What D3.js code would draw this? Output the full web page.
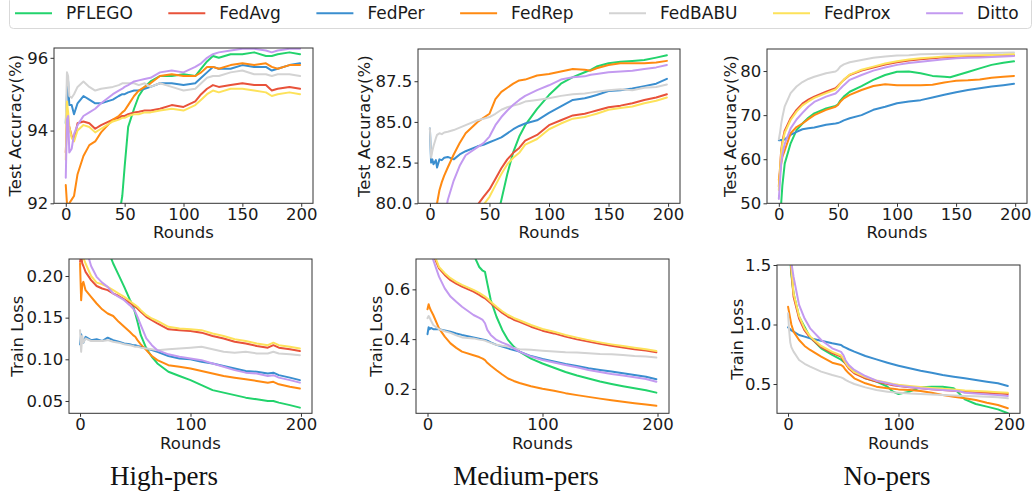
<!DOCTYPE html>
<html>
<head>
<meta charset="utf-8">
<script src="https://cdn.jsdelivr.net/npm/d3@7"></script>
<style>
  body { margin: 0; background: #fff; }
  svg { display: block; font-family: "DejaVu Sans", sans-serif; }
</style>
</head>
<body>
<svg id="chart" width="1034" height="497"></svg>
<script>
// methods, in legend / drawing order
const methods = ["PFLEGO", "FedAvg", "FedPer", "FedRep", "FedBABU", "FedProx", "Ditto"];
const colors = ["#22d36c", "#e8523a", "#3a8ecf", "#ff8a12", "#d3d3d3", "#fde25a", "#c39af0"];

// High-pers, test accuracy (values per method, same order as `methods`)
const roundsHighAcc = [0,1,2,3,5,7,10,15,20,25,30,40,45,48,50,53,58,62,67,72,80,90,100,110,115,120,125,130,140,150,160,170,175,180,190,199];
const highAcc = [
  [82,83,84,84.5,85,85.5,86,87,88,88.8,89.5,90.8,91.6,92.2,93.0,94.1,94.6,94.95,95.2,95.35,95.5,95.5,95.55,95.5,95.7,95.9,96.05,96.0,96.1,96.1,96.15,96.05,96.05,96.1,96.15,96.1],
  [93.4,94.3,94.2,94.1,93.85,93.75,94.2,94.25,94.2,94.05,94.15,94.3,94.35,94.4,94.4,94.45,94.5,94.52,94.55,94.55,94.6,94.7,94.65,94.8,95.0,95.15,95.25,95.2,95.25,95.3,95.25,95.25,95.1,95.15,95.2,95.15],
  [94.2,95.0,95.35,94.7,94.7,94.45,94.75,94.95,94.85,94.75,94.75,94.85,94.95,95.0,95.0,95.05,95.1,95.1,95.15,95.2,95.3,95.3,95.25,95.3,95.45,95.6,95.75,95.7,95.7,95.8,95.75,95.75,95.65,95.7,95.8,95.85],
  [92.5,92.0,91.9,92.0,92.1,92.2,92.8,93.3,93.6,93.7,93.95,94.3,94.4,94.5,94.55,94.7,94.95,95.1,95.2,95.3,95.5,95.55,95.5,95.5,95.6,95.75,95.75,95.7,95.8,95.85,95.8,95.85,95.75,95.7,95.8,95.8],
  [94.2,95.6,95.5,94.95,94.9,95.0,95.2,95.35,95.2,95.1,95.15,95.2,95.25,95.3,95.3,95.3,95.3,95.25,95.3,95.2,95.3,95.2,95.1,95.15,95.3,95.45,95.5,95.5,95.6,95.65,95.55,95.55,95.5,95.55,95.55,95.5],
  [93.2,94.8,94.5,94.1,93.8,93.7,94.0,94.15,94.1,93.95,94.05,94.25,94.3,94.35,94.35,94.4,94.45,94.45,94.5,94.5,94.55,94.6,94.55,94.7,94.85,95.0,95.1,95.05,95.15,95.15,95.1,95.05,94.95,95.0,95.05,95.0],
  [92.7,94.3,94.4,93.4,93.5,93.9,94.15,94.4,94.5,94.6,94.75,95.0,95.1,95.15,95.2,95.25,95.35,95.38,95.42,95.45,95.6,95.65,95.6,95.75,95.85,96.0,96.1,96.15,96.2,96.25,96.25,96.2,96.15,96.2,96.25,96.25]
];

// Medium-pers, test accuracy
const roundsMedAcc = [0,1,2,3,5,6,8,10,12,15,20,25,30,40,45,50,55,60,65,70,75,80,90,100,110,120,130,135,140,150,160,170,180,190,199];
const medAcc = [
  [60,61,62,63,64,65,66,67,68,69,70.5,72,73,75,76.5,77.5,78.7,80.2,81.8,83.15,84.1,84.8,85.8,86.65,87.35,87.75,88.05,88.2,88.4,88.6,88.7,88.75,88.8,88.95,89.1],
  [70,71,71.5,72,72.5,73,73.5,74,74.5,75,76,77,78,79.9,80.4,80.85,81.5,82.15,82.7,83.1,83.4,83.85,84.2,84.8,85.1,85.4,85.5,85.6,85.7,85.9,86.0,86.15,86.35,86.5,86.7],
  [84.6,82.5,82.7,82.4,82.65,82.2,82.7,82.65,82.8,82.85,82.7,83.0,83.2,83.5,83.6,83.75,83.9,84.05,84.3,84.55,84.75,84.9,85.1,85.55,85.95,86.35,86.45,86.55,86.65,86.9,86.95,87.05,87.2,87.35,87.65],
  [76,77,77.8,78.5,79.5,80.0,80.8,81.3,81.7,82.2,83.0,83.7,84.3,85.0,85.25,85.5,86.4,86.85,87.1,87.35,87.55,87.6,87.85,87.95,88.1,88.25,88.2,88.15,88.3,88.5,88.6,88.6,88.6,88.65,88.75],
  [84.6,82.8,83.2,83.5,84.0,84.2,84.3,84.25,84.35,84.4,84.5,84.65,84.8,85.1,85.2,85.3,85.5,85.75,85.9,86.0,86.1,86.25,86.35,86.45,86.6,86.7,86.75,86.8,86.85,86.95,87.0,86.95,87.1,87.15,87.3],
  [69.5,70.5,71,71.5,72,72.5,73,73.5,74,74.5,75.5,76.5,77.5,79.3,79.9,80.4,81.1,81.8,82.4,82.8,83.1,83.6,83.95,84.55,84.9,85.2,85.3,85.4,85.5,85.75,85.85,85.95,86.15,86.3,86.5],
  [74,74.5,75,75.5,76.3,76.7,77.5,78.2,79.0,80.2,81.4,82.3,82.95,83.45,83.7,84.1,84.8,85.3,85.7,86.05,86.35,86.6,86.95,87.25,87.6,87.75,87.8,87.9,87.95,88.05,88.1,88.15,88.25,88.35,88.5]
];

// No-pers, test accuracy
const roundsNoAcc = [0,1,2,3,5,10,15,20,25,30,40,48,50,52,55,60,70,80,90,100,110,120,130,140,145,150,160,170,180,190,199];
const noAcc = [
  [40,45,50,54,59,63.6,66.6,68.1,69.4,70.4,71.5,72.1,72.4,73.3,74.2,75.3,76.6,78.0,79.1,79.85,79.9,79.5,78.9,78.7,78.6,79.0,79.8,80.6,81.4,81.9,82.2],
  [53.8,58,62,64,66.5,69.3,71.2,72.6,73.5,74.2,75.3,76.1,76.6,77.2,78.0,79.1,80.1,80.8,81.5,82.0,82.4,82.7,82.9,83.1,83.15,83.2,83.3,83.4,83.45,83.5,83.6],
  [64.3,64.3,64.4,64.3,64.5,65.5,66.2,66.8,67.0,67.2,67.8,68.1,68.2,68.4,68.8,69.3,70.0,71.2,71.9,72.7,73.1,73.4,74.0,74.6,74.9,75.2,75.7,76.1,76.5,76.8,77.1],
  [55.3,57,59,60.5,62,65.9,67.3,68.1,69.1,70.0,71.2,71.9,72.3,73.0,73.8,74.6,75.7,76.6,77.0,76.8,76.8,76.8,76.9,77.4,77.6,77.8,77.9,78.1,78.5,78.7,78.9],
  [64.5,66,68,69.5,72,75,76.5,77.5,78.2,78.7,79.5,79.9,80.3,81.0,81.5,82.0,82.5,83.0,83.3,83.5,83.6,83.8,83.85,83.9,83.9,83.95,84.0,84.05,84.1,84.15,84.2],
  [53,57.5,61.5,63.5,66,68.9,70.8,72.2,73.1,73.9,75.0,75.8,76.4,77.1,78.0,79.2,80.3,81.0,81.7,82.2,82.6,82.9,83.1,83.3,83.35,83.4,83.5,83.6,83.65,83.7,83.8],
  [51,55,59,61,63.5,67,69,70.5,71.9,73.0,74.2,74.9,75.4,76.0,76.8,78.0,79.1,80.1,80.8,81.4,81.8,82.1,82.4,82.7,82.8,82.9,83.0,83.1,83.2,83.3,83.4]
];

// High-pers, train loss
const roundsHighLoss = [0,1,2,3,5,10,15,20,25,30,35,40,45,48,50,52,55,60,65,70,80,90,100,110,120,130,140,150,160,170,175,180,190,199];
const highLoss = [
  [0.60,0.55,0.50,0.46,0.40,0.32,0.28,0.25,0.232,0.215,0.201,0.187,0.172,0.164,0.155,0.145,0.129,0.113,0.103,0.095,0.085,0.080,0.075,0.069,0.063,0.060,0.057,0.054,0.052,0.050,0.050,0.048,0.045,0.042],
  [0.217,0.225,0.215,0.212,0.205,0.195,0.188,0.185,0.183,0.179,0.176,0.172,0.168,0.165,0.163,0.161,0.157,0.151,0.147,0.143,0.136,0.135,0.134,0.132,0.128,0.125,0.121,0.119,0.116,0.114,0.117,0.114,0.112,0.110],
  [0.118,0.13,0.125,0.12,0.127,0.123,0.124,0.122,0.126,0.123,0.121,0.119,0.118,0.117,0.117,0.116,0.115,0.113,0.111,0.109,0.104,0.101,0.100,0.097,0.095,0.092,0.089,0.086,0.085,0.083,0.084,0.081,0.078,0.075],
  [0.215,0.171,0.19,0.193,0.183,0.175,0.167,0.16,0.155,0.152,0.145,0.139,0.133,0.129,0.127,0.123,0.118,0.111,0.104,0.099,0.093,0.091,0.089,0.086,0.083,0.080,0.078,0.076,0.074,0.072,0.073,0.070,0.067,0.065],
  [0.135,0.109,0.128,0.12,0.125,0.122,0.122,0.122,0.123,0.121,0.12,0.118,0.117,0.116,0.115,0.115,0.114,0.113,0.112,0.111,0.112,0.113,0.114,0.115,0.112,0.109,0.108,0.109,0.107,0.107,0.109,0.107,0.106,0.105],
  [0.23,0.23,0.225,0.222,0.215,0.200,0.192,0.190,0.187,0.183,0.179,0.175,0.170,0.167,0.165,0.163,0.159,0.153,0.149,0.146,0.139,0.137,0.136,0.135,0.131,0.128,0.124,0.122,0.119,0.117,0.120,0.117,0.115,0.113],
  [0.30,0.28,0.26,0.25,0.235,0.212,0.199,0.192,0.187,0.179,0.175,0.171,0.165,0.161,0.157,0.151,0.141,0.125,0.117,0.111,0.106,0.103,0.101,0.099,0.095,0.091,0.087,0.084,0.083,0.080,0.081,0.078,0.075,0.072]
];

// Medium-pers, train loss
const roundsMedLoss = [0,1,2,3,5,10,15,20,25,30,40,45,48,50,52,55,60,65,70,75,80,90,100,110,120,130,140,150,160,170,180,190,199];
const medLoss = [
  [2.0,1.9,1.8,1.7,1.55,1.3,1.15,1.0,0.92,0.85,0.74,0.69,0.675,0.67,0.624,0.557,0.49,0.437,0.397,0.37,0.35,0.322,0.302,0.285,0.268,0.254,0.242,0.23,0.22,0.211,0.203,0.195,0.185],
  [1.2,1.0,0.9,0.82,0.74,0.684,0.658,0.637,0.623,0.611,0.591,0.578,0.569,0.564,0.556,0.544,0.524,0.505,0.49,0.478,0.47,0.45,0.434,0.423,0.41,0.399,0.39,0.381,0.373,0.366,0.359,0.354,0.347],
  [0.42,0.448,0.44,0.445,0.44,0.44,0.435,0.43,0.423,0.417,0.407,0.402,0.399,0.397,0.394,0.387,0.377,0.37,0.363,0.356,0.35,0.332,0.32,0.31,0.3,0.292,0.283,0.276,0.27,0.263,0.256,0.249,0.239],
  [0.52,0.54,0.525,0.515,0.497,0.443,0.41,0.383,0.365,0.35,0.335,0.328,0.322,0.316,0.305,0.293,0.275,0.258,0.242,0.232,0.224,0.211,0.201,0.193,0.183,0.175,0.168,0.161,0.154,0.148,0.142,0.137,0.132],
  [0.484,0.493,0.485,0.475,0.457,0.44,0.432,0.425,0.415,0.407,0.403,0.398,0.396,0.394,0.39,0.385,0.377,0.373,0.37,0.364,0.359,0.357,0.353,0.35,0.347,0.346,0.343,0.34,0.339,0.336,0.332,0.33,0.326],
  [1.25,1.05,0.93,0.84,0.75,0.69,0.665,0.645,0.63,0.618,0.598,0.586,0.577,0.571,0.563,0.55,0.53,0.512,0.497,0.485,0.476,0.457,0.441,0.43,0.417,0.406,0.396,0.387,0.379,0.372,0.365,0.359,0.352],
  [1.1,0.95,0.85,0.78,0.718,0.651,0.604,0.571,0.55,0.53,0.497,0.485,0.477,0.464,0.437,0.417,0.397,0.386,0.377,0.363,0.35,0.33,0.316,0.306,0.296,0.287,0.276,0.268,0.26,0.254,0.247,0.24,0.229]
];

// No-pers, train loss
const roundsNoLoss = [0,1,2,3,5,10,15,20,30,40,48,50,52,55,60,70,80,90,95,100,110,120,130,140,150,155,160,170,180,190,199];
const noLoss = [
  [2.2,1.8,1.55,1.42,1.26,1.066,0.98,0.892,0.8,0.744,0.705,0.69,0.675,0.646,0.604,0.548,0.52,0.478,0.436,0.416,0.436,0.472,0.478,0.478,0.464,0.42,0.371,0.332,0.31,0.287,0.254],
  [2.1,1.8,1.6,1.45,1.234,1.05,0.95,0.89,0.81,0.76,0.73,0.70,0.67,0.63,0.59,0.548,0.52,0.50,0.49,0.483,0.473,0.464,0.457,0.45,0.443,0.44,0.436,0.431,0.427,0.421,0.416],
  [0.976,0.97,0.96,0.95,0.94,0.912,0.898,0.884,0.864,0.842,0.828,0.814,0.805,0.792,0.772,0.735,0.707,0.679,0.666,0.654,0.632,0.612,0.595,0.576,0.562,0.555,0.548,0.534,0.52,0.506,0.483],
  [1.15,1.1,1.05,1.0,0.94,0.87,0.82,0.786,0.73,0.679,0.66,0.646,0.62,0.59,0.548,0.506,0.478,0.464,0.46,0.455,0.45,0.441,0.427,0.408,0.394,0.387,0.38,0.366,0.343,0.324,0.296],
  [1.094,0.95,0.85,0.81,0.772,0.702,0.67,0.646,0.604,0.576,0.556,0.548,0.535,0.52,0.5,0.472,0.45,0.436,0.43,0.427,0.42,0.416,0.412,0.408,0.404,0.402,0.4,0.397,0.394,0.388,0.38],
  [2.15,1.85,1.65,1.48,1.26,1.07,0.965,0.9,0.82,0.77,0.74,0.71,0.68,0.64,0.6,0.558,0.53,0.51,0.5,0.493,0.483,0.474,0.467,0.46,0.453,0.45,0.446,0.441,0.437,0.431,0.426],
  [2.3,1.95,1.7,1.52,1.4,1.164,1.05,0.968,0.87,0.8,0.77,0.744,0.70,0.66,0.618,0.567,0.528,0.506,0.496,0.486,0.475,0.464,0.457,0.45,0.443,0.44,0.427,0.42,0.413,0.407,0.4]
];

const titles = ["High-pers", "Medium-pers", "No-pers"];

const panels = [
  { rounds: roundsHighAcc, values: highAcc, box: [54, 313, 48, 203.3], yDomain: [92, 96.27], yTicks: [92, 94, 96], fmt: "d",
    xTicks: [0, 50, 100, 150, 200], yLabel: "Test Accuracy(%)", yLabelX: 20.5 },
  { rounds: roundsMedAcc, values: medAcc, box: [418, 680, 49, 203.3], yDomain: [80, 89.48], yTicks: [80, 82.5, 85, 87.5], fmt: ".1f",
    xTicks: [0, 50, 100, 150, 200], yLabel: "Test Accuracy(%)", yLabelX: 370.3 },
  { rounds: roundsNoAcc, values: noAcc, box: [767, 1027, 49, 203.3], yDomain: [50, 85], yTicks: [50, 60, 70, 80], fmt: "d",
    xTicks: [0, 50, 100, 150, 200], yLabel: "Test Accuracy(%)", yLabelX: 735.5 },
  { rounds: roundsHighLoss, values: highLoss, box: [69, 312, 259, 413.3], yDomain: [0.0352, 0.2204], yTicks: [0.05, 0.10, 0.15, 0.20], fmt: ".2f",
    xTicks: [0, 100, 200], yLabel: "Train Loss", yLabelX: 23 },
  { rounds: roundsMedLoss, values: medLoss, box: [416, 669, 259, 413.3], yDomain: [0.102, 0.722], yTicks: [0.2, 0.4, 0.6], fmt: ".1f",
    xTicks: [0, 100, 200], yLabel: "Train Loss", yLabelX: 381.5 },
  { rounds: roundsNoLoss, values: noLoss, box: [777, 1020, 265, 413.3], yDomain: [0.254, 1.5], yTicks: [0.5, 1.0, 1.5], fmt: ".1f",
    xTicks: [0, 100, 200], yLabel: "Train Loss", yLabelX: 743 }
];

const svg = d3.select("#chart");
const tickFont = "16.5px";

panels.forEach((p, i) => {
  const [x0, x1, y0, y1] = p.box;
  const xScale = d3.scaleLinear().domain([-10, 210]).range([x0, x1]);
  const yScale = d3.scaleLinear().domain(p.yDomain).range([y1, y0]);
  const g = svg.append("g").attr("class", "panel");

  g.append("clipPath").attr("id", "clip" + i)
    .append("rect")
    .attr("x", x0).attr("y", y0)
    .attr("width", x1 - x0).attr("height", y1 - y0);

  const line = d3.line()
    .x((d, j) => xScale(p.rounds[j]))
    .y(d => yScale(d));

  g.append("g")
    .attr("clip-path", `url(#clip${i})`)
    .selectAll(".series")
    .data(p.values)
    .enter().append("path")
    .attr("class", "series")
    .attr("d", line)
    .attr("fill", "none")
    .attr("stroke", (d, k) => colors[k])
    .attr("stroke-width", 2)
    .attr("stroke-linejoin", "round")
    .attr("stroke-linecap", "round");

  const xAxis = d3.axisBottom(xScale).tickValues(p.xTicks).tickSize(3.5).tickPadding(1.5).tickFormat(d3.format("d"));
  const yAxis = d3.axisLeft(yScale).tickValues(p.yTicks).tickSize(3.5).tickPadding(2.2).tickFormat(d3.format(p.fmt));

  const gx = g.append("g").attr("transform", `translate(0,${y1})`).call(xAxis);
  const gy = g.append("g").attr("transform", `translate(${x0},0)`).call(yAxis);
  [gx, gy].forEach(a => {
    a.select(".domain").remove();
    a.selectAll("line").attr("stroke", "#333");
    a.selectAll("text").attr("font-size", tickFont).attr("font-family", "DejaVu Sans").attr("fill", "#1a1a1a");
  });

  g.append("rect")
    .attr("x", x0).attr("y", y0)
    .attr("width", x1 - x0).attr("height", y1 - y0)
    .attr("fill", "none")
    .attr("stroke", "#333")
    .attr("stroke-width", 1);

  g.append("text")
    .attr("x", (x0 + x1) / 2)
    .attr("y", i < 3 ? 238.3 : 449)
    .attr("text-anchor", "middle")
    .attr("font-size", tickFont)
    .attr("fill", "#1a1a1a")
    .text("Rounds");

  g.append("text")
    .attr("transform", `translate(${p.yLabelX},${(y0 + y1) / 2}) rotate(-90)`)
    .attr("text-anchor", "middle")
    .attr("font-size", tickFont)
    .attr("fill", "#1a1a1a")
    .text(p.yLabel);

  if (i < 3) {
    svg.append("text")
      .attr("x", [164, 526, 887][i])
      .attr("y", 485)
      .attr("text-anchor", "middle")
      .attr("font-family", "'Liberation Serif', 'Times New Roman', serif")
      .attr("font-size", "27px")
      .attr("fill", "#111")
      .text(titles[i]);
  }
});

// legend
const legend = svg.append("g").attr("class", "legend");
legend.append("rect")
  .attr("x", 9.5).attr("y", -3.5)
  .attr("width", 1022).attr("height", 32)
  .attr("rx", 4)
  .attr("fill", "#fff")
  .attr("stroke", "#d9d9d9");

let lx = 15;
methods.forEach((m, k) => {
  legend.append("line")
    .attr("x1", lx).attr("x2", lx + 37)
    .attr("y1", 13.3).attr("y2", 13.3)
    .attr("stroke", colors[k])
    .attr("stroke-width", 2);
  const t = legend.append("text")
    .attr("x", lx + 51)
    .attr("y", 19.3)
    .attr("font-size", "17px")
    .attr("fill", "#1a1a1a")
    .text(m);
  lx = lx + 51 + t.node().getComputedTextLength() + 35.5;
});
</script>
</body>
</html>
